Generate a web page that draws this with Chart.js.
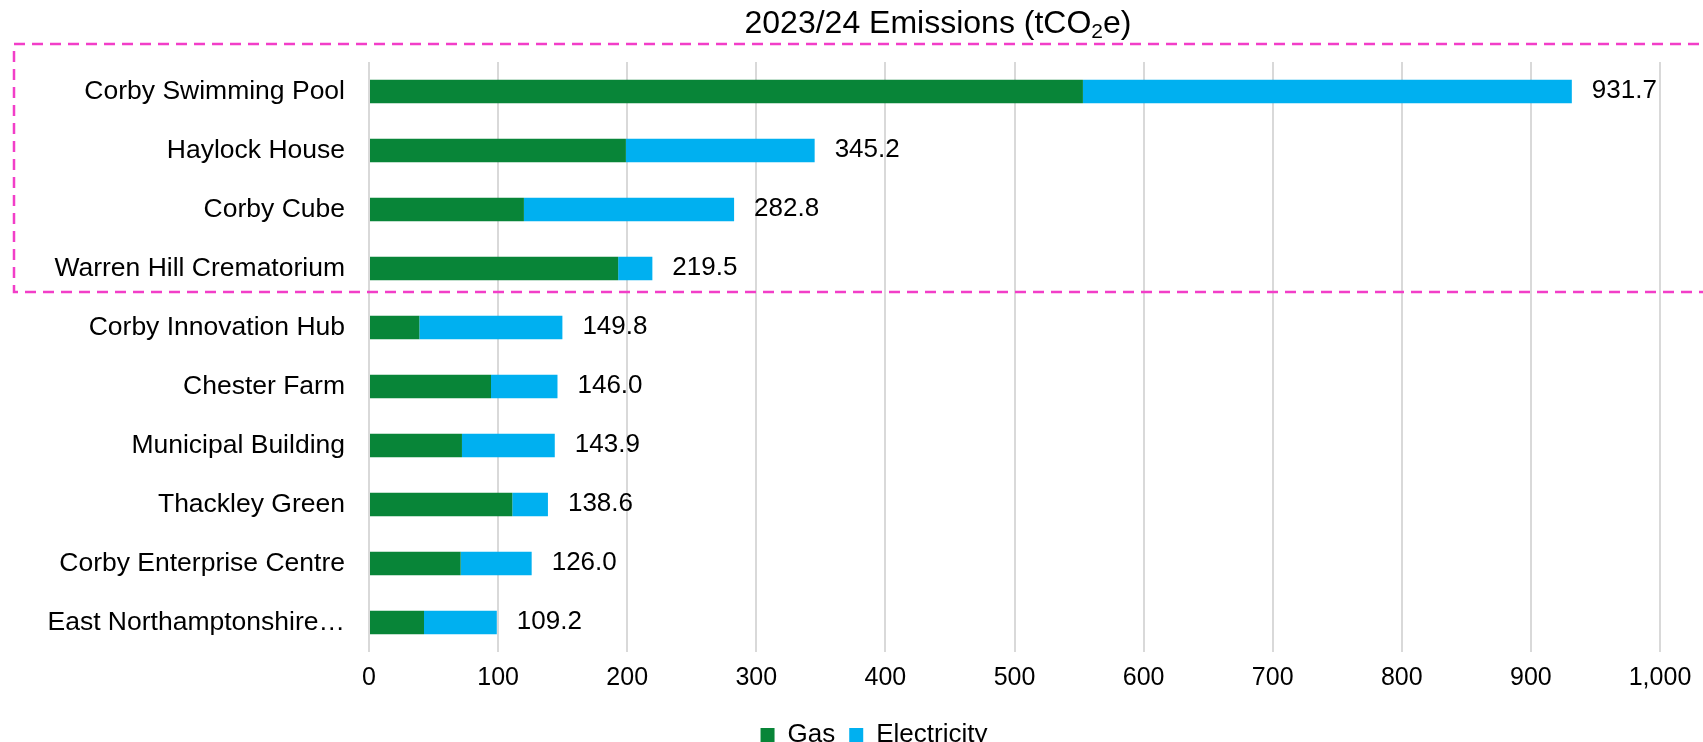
<!DOCTYPE html>
<html>
<head>
<meta charset="utf-8">
<script src="https://cdn.jsdelivr.net/npm/chart.js@4"></script>
<style>
    html, body { margin: 0; padding: 0; background: #fff; }
    #wrap { width: 1703px; height: 742px; position: relative; }
</style>
</head>
<body>
<div id="wrap"><canvas id="emissions"></canvas></div>
<script>
// Datos (tCO2e)
const sites = ['Corby Swimming Pool', 'Haylock House', 'Corby Cube', 'Warren Hill Crematorium',
    'Corby Innovation Hub', 'Chester Farm', 'Municipal Building', 'Thackley Green',
    'Corby Enterprise Centre', 'East Northamptonshire…'];
const gas = [553, 199, 120, 193, 39, 94.5, 72, 111, 71, 42.6];
const electricity = [378.7, 146.2, 162.8, 26.5, 110.8, 51.5, 71.9, 27.6, 55, 56.4];
const totalLabels = ['931.7', '345.2', '282.8', '219.5', '149.8', '146.0', '143.9', '138.6', '126.0', '109.2'];
const xTicks = [0, 100, 200, 300, 400, 500, 600, 700, 800, 900, 1000];
const highlighted = 4; // primeros 4 edificios dentro del recuadro

const FONT = "'Liberation Sans', Arial, sans-serif";

// Título con subíndice (CO2)
const titlePlugin = {
    id: 'subTitle',
    afterDraw(chart) {
        const ctx = chart.ctx;
        const main = '2023/24 Emissions (tCO', sub = '2', tail = 'e)';
        ctx.save();
        ctx.fillStyle = '#000';
        ctx.textBaseline = 'middle';
        ctx.textAlign = 'left';
        ctx.font = `32px ${FONT}`;
        const wMain = ctx.measureText(main).width, wTail = ctx.measureText(tail).width;
        ctx.font = `21px ${FONT}`;
        const wSub = ctx.measureText(sub).width;
        let x = 938 - (wMain + wSub + wTail) / 2;
        const y = 24;
        ctx.font = `32px ${FONT}`;
        ctx.fillText(main, x, y);
        x += wMain;
        ctx.font = `21px ${FONT}`;
        ctx.fillText(sub, x, y + 8);
        x += wSub;
        ctx.font = `32px ${FONT}`;
        ctx.fillText(tail, x, y);
        ctx.restore();
    }
};

// Recuadro discontinuo alrededor de los principales emisores
const highlightPlugin = {
    id: 'highlightBox',
    afterDraw(chart) {
        const ctx = chart.ctx;
        const yScale = chart.scales.y;
        const bottom = yScale.getPixelForValue(highlighted - 0.5) - 6;
        ctx.save();
        ctx.strokeStyle = '#f23ec8';
        ctx.lineWidth = 2.5;
        ctx.setLineDash([11, 7]);
        ctx.strokeRect(14, 44, chart.width + 20, bottom - 44);
        ctx.restore();
    }
};

// Etiquetas de total al final de cada barra apilada
const totalsPlugin = {
    id: 'totals',
    afterDatasetsDraw(chart) {
        const ctx = chart.ctx;
        const meta = chart.getDatasetMeta(chart.data.datasets.length - 1);
        ctx.save();
        ctx.font = `26px ${FONT}`;
        ctx.fillStyle = '#000';
        ctx.textAlign = 'left';
        ctx.textBaseline = 'middle';
        meta.data.forEach((bar, i) => {
            ctx.fillText(totalLabels[i], bar.x + 20, bar.y - 1);
        });
        ctx.restore();
    }
};

// La leyenda de Excel no está centrada en el lienzo: se desplaza un poco
const legendShift = {
    id: 'legendShift',
    beforeDraw(chart) {
        if (chart.legend) chart.legend.left = 88;
    }
};

Chart.defaults.font.family = FONT;
Chart.defaults.color = '#000';

new Chart(document.getElementById('emissions').getContext('2d'), {
    type: 'bar',
    plugins: [legendShift, titlePlugin, highlightPlugin, totalsPlugin],
    data: {
        labels: sites,
        datasets: [
            {
                label: 'Gas',
                data: gas,
                backgroundColor: '#088538',
                borderWidth: 0,
                barPercentage: 0.4,
                categoryPercentage: 1
            },
            {
                label: 'Electricity',
                data: electricity,
                backgroundColor: '#00b0f0',
                borderWidth: 0,
                barPercentage: 0.4,
                categoryPercentage: 1
            }
        ]
    },
    options: {
        indexAxis: 'y',
        responsive: true,
        maintainAspectRatio: false,
        animation: false,
        devicePixelRatio: 1,
        layout: { padding: { left: 0, right: 43, top: 62, bottom: -16 } },
        plugins: {
            title: { display: false },
            tooltip: { enabled: false },
            legend: {
                display: true,
                position: 'bottom',
                labels: {
                    color: '#000',
                    boxWidth: 14,
                    boxHeight: 14,
                    padding: 14,
                    font: { size: 26 }
                }
            }
        },
        scales: {
            x: {
                stacked: true,
                min: 0,
                max: 1000,
                afterBuildTicks: (scale) => { scale.ticks = xTicks.map(v => ({ value: v })); },
                afterFit: (scale) => { scale.height = 56; },
                grid: { color: '#d9d9d9', lineWidth: 2, drawTicks: false },
                border: { display: false },
                ticks: {
                    padding: 11,
                    font: { size: 25 },
                    color: '#000',
                    callback: (v) => v.toLocaleString('en-US')
                }
            },
            y: {
                stacked: true,
                afterFit: (scale) => { scale.width = 369; },
                grid: { display: false, drawTicks: false },
                border: { display: false },
                ticks: {
                    padding: 24,
                    font: { size: 26.5 },
                    color: '#000',
                    autoSkip: false
                }
            }
        }
    }
});
</script>
</body>
</html>
